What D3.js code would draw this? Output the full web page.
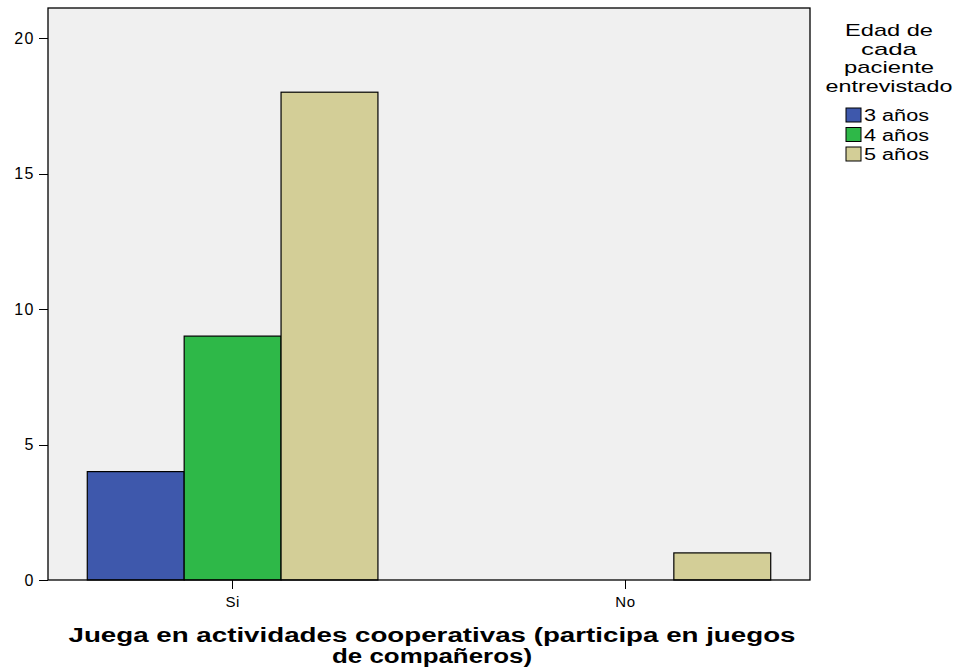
<!DOCTYPE html>
<meta charset="utf-8">
<style>
body { margin: 0; background: #fff; font-family: "Liberation Sans", Arial, sans-serif; }
.axis path, .axis line { stroke: #000; shape-rendering: crispEdges; }
.axis text { font-family: "Liberation Sans", Arial, sans-serif; font-size: 16px; fill: #000; letter-spacing: 1.5px; }
</style>
<body>
<script src="https://d3js.org/d3.v7.min.js"></script>
<script>

var categories = ["Si", "No"];
var series = ["3 años", "4 años", "5 años"];
var colors = ["#3e58ac", "#2eb848", "#d3ce97"];
// counts per category for each age
var valuesSi = [4, 9, 18];
var valuesNo = [0, 0, 1];
var yTicks = [0, 5, 10, 15, 20];

var svg = d3.select("body").append("svg")
    .attr("width", 955)
    .attr("height", 670);

var pLeft = 48, pRight = 810, pTop = 8, pBottom = 580;

var x = d3.scaleBand()
    .domain(categories)
    .range([pLeft, pRight])
    .paddingInner(0.26)
    .paddingOuter(0.1);

var x1 = d3.scaleBand()
    .domain(series)
    .range([0, x.bandwidth()]);

var y = d3.scaleLinear()
    .domain([0, 20])
    .range([580, 38]);

// plot background
svg.append("rect")
    .attr("x", pLeft)
    .attr("y", pTop)
    .attr("width", pRight - pLeft)
    .attr("height", pBottom - pTop)
    .attr("fill", "#f0f0f0");

var data = [
  {cat: "Si", vals: valuesSi},
  {cat: "No", vals: valuesNo}
];

var groups = svg.selectAll(".grp")
    .data(data)
  .enter().append("g")
    .attr("transform", function(d) { return "translate(" + x(d.cat) + ",0)"; });

groups.selectAll("rect")
    .data(function(d) {
      return d.vals.map(function(v, i) { return {name: series[i], v: v, c: colors[i]}; })
        .filter(function(e) { return e.v > 0; });
    })
  .enter().append("rect")
    .attr("x", function(d) { return x1(d.name); })
    .attr("width", x1.bandwidth())
    .attr("y", function(d) { return y(d.v); })
    .attr("height", function(d) { return y(0) - y(d.v); })
    .attr("fill", function(d) { return d.c; })
    .attr("stroke", "#000")
    .attr("stroke-width", 1.2);

// y axis
svg.append("g")
    .attr("class", "axis")
    .attr("transform", "translate(" + pLeft + ",0)")
    .call(d3.axisLeft(y).tickValues(yTicks).tickSize(9).tickPadding(4))
    .call(function(g) { g.select(".domain").remove(); });

// x axis
svg.append("g")
    .attr("class", "axis")
    .attr("transform", "translate(0," + pBottom + ")")
    .call(d3.axisBottom(x).tickSize(9).tickPadding(7))
    .call(function(g) { g.select(".domain").remove(); })
    .call(function(g) { g.selectAll("text").style("font-size", "15px").style("letter-spacing", "0.5px"); });

// frame on top
svg.append("rect")
    .attr("x", pLeft)
    .attr("y", pTop)
    .attr("width", pRight - pLeft)
    .attr("height", pBottom - pTop)
    .attr("fill", "none")
    .attr("stroke", "#000")
    .attr("stroke-width", 1.3);

// x axis title (stretched like the original)
var titleRows = [
  {t: "Juega en actividades cooperativas (participa en juegos", w: 727},
  {t: "de compañeros)", w: 200}
];
svg.selectAll(".xtitle")
    .data(titleRows)
  .enter().append("text")
    .attr("x", function(d) { return 432 - d.w / 2; })
    .attr("y", function(d, i) { return 642 + i * 21; })
    .attr("textLength", function(d) { return d.w; })
    .attr("lengthAdjust", "spacingAndGlyphs")
    .style("font-size", "20px")
    .style("font-weight", "bold")
    .text(function(d) { return d.t; });

// legend
var titleLines = [
  {t: "Edad de", w: 88},
  {t: "cada", w: 56},
  {t: "paciente", w: 90},
  {t: "entrevistado", w: 127}
];
svg.selectAll(".ltitle")
    .data(titleLines)
  .enter().append("text")
    .attr("x", function(d) { return 889 - d.w / 2; })
    .attr("y", function(d, i) { return 36 + i * 18.5; })
    .attr("textLength", function(d) { return d.w; })
    .attr("lengthAdjust", "spacingAndGlyphs")
    .style("font-size", "17px")
    .text(function(d) { return d.t; });

var legend = svg.selectAll(".legend")
    .data(series)
  .enter().append("g")
    .attr("transform", function(d, i) { return "translate(846," + (108 + i * 19.5) + ")"; });

legend.append("rect")
    .attr("width", 15)
    .attr("height", 14)
    .attr("fill", function(d, i) { return colors[i]; })
    .attr("stroke", "#000")
    .attr("stroke-width", 1);

legend.append("text")
    .attr("x", 18)
    .attr("y", 13)
    .attr("textLength", 65)
    .attr("lengthAdjust", "spacingAndGlyphs")
    .style("font-size", "16px")
    .text(function(d) { return d; });

</script>
</body>
